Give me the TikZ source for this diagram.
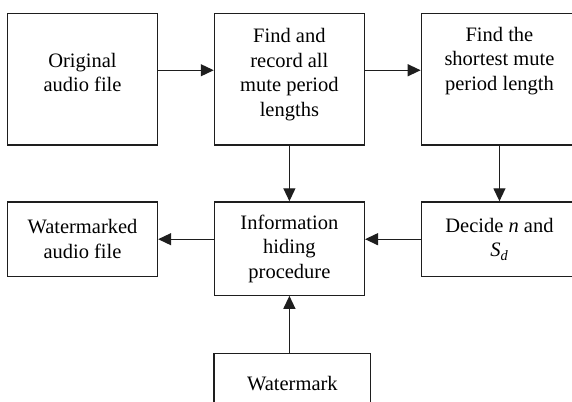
\documentclass[tikz,border=0pt]{standalone}
\usepackage{fontspec}
\setmainfont{Liberation Serif}
\usetikzlibrary{
  arrows.meta,
  positioning
}
\definecolor{lineblack}{RGB}{30,30,30}

\begin{document}
\begin{tikzpicture}[
  x=1pt, y=-1pt,
  box/.style={draw=lineblack, line width=1.3pt, minimum width=150pt,
              inner sep=0pt, align=center, font=\fontsize{20.5}{24.5}\selectfont},
  tall/.style={box, minimum height=131.5pt, text depth=14pt},
  flat/.style={box, minimum height=74.6pt},
  arr/.style={-{Triangle[length=13pt, width=12pt]}, line width=1.3pt, draw=lineblack},
  node distance=55.6pt
]
\useasboundingbox (0,0) rectangle (572,401);

% top row
\node[tall] at (82.5, 79.25) (orig) {Original\\audio file};
\node[tall, right=of orig] (rec) {Find and\\record all\\mute period\\lengths};
\node[tall, right=of rec, minimum width=156.3pt, text depth=41pt] (short)
  {Find the\\shortest mute\\period length};

% middle row
\node[flat, below=of orig] (wm) {Watermarked\\audio file};
\node[box, minimum height=93.3pt, below=of rec] (info) {Information\\hiding\\procedure};
\node[flat, below=of short, minimum width=156.3pt] (decide)
  {Decide \textit{n} and\\\textit{S}\textsubscript{\textit{d}}};

% bottom
\node[box, minimum width=156.6pt, minimum height=60.3pt,
      below=56.7pt of info, xshift=3pt] (mark) {Watermark};

\draw[arr] ([yshift=9pt]orig.east) -- ([yshift=9pt]rec.west);
\draw[arr] ([yshift=9pt]rec.east) -- ([yshift=9pt]short.west);
\draw[arr] (rec.south) -- (info.north);
\draw[arr] (short.south) -- (decide.north);
\draw[arr] (decide.west) -- (decide.west -| info.east);
\draw[arr] (wm.east -| info.west) -- (wm.east);
\draw[arr] (mark.north -| info.south) -- (info.south);

\end{tikzpicture}
\end{document}
